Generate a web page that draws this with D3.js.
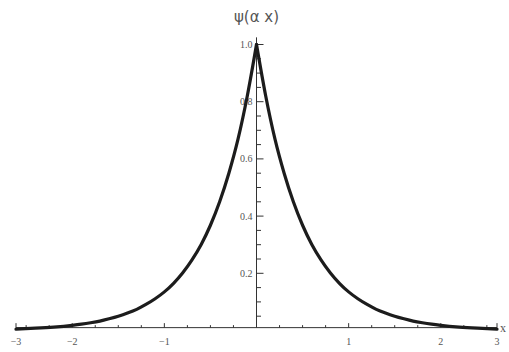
<!DOCTYPE html>
<html>
<head>
<meta charset="utf-8">
<script src="https://cdn.jsdelivr.net/npm/d3@7"></script>
<style>
  html, body { margin: 0; padding: 0; background: #fff; overflow: hidden; }
</style>
</head>
<body>
<div id="chart"></div>
<script>
// curve readings, right and left of the peak
const rightX = [0, 0.1, 0.2, 0.3, 0.4, 0.5, 0.6, 0.7, 0.8, 0.9, 1.0, 1.1, 1.2, 1.3, 1.4, 1.5, 1.6, 1.7, 1.8, 1.9, 2.0, 2.2, 2.4, 2.61];
const rightY = [1.0, 0.82, 0.67, 0.55, 0.45, 0.368, 0.301, 0.247, 0.202, 0.165, 0.135, 0.111, 0.091, 0.074, 0.061, 0.050, 0.041, 0.033, 0.027, 0.022, 0.018, 0.012, 0.008, 0.005];
const leftX = [-2.61, -2.4, -2.2, -2.0, -1.9, -1.8, -1.7, -1.6, -1.5, -1.4, -1.3, -1.2, -1.1, -1.0, -0.9, -0.8, -0.7, -0.6, -0.5, -0.4, -0.3, -0.2, -0.1, 0];
const leftY = [0.005, 0.008, 0.012, 0.018, 0.022, 0.027, 0.033, 0.041, 0.050, 0.061, 0.074, 0.091, 0.111, 0.135, 0.165, 0.202, 0.247, 0.301, 0.368, 0.45, 0.55, 0.67, 0.82, 1.0];

// ticks
const xTickValues = [-2.61, -2, -1, 1, 2, 2.61];
const xTickLabels = ["\u22123", "\u22122", "\u22121", "1", "2", "3"];
const xMinor = [-2.5, -2.25, -1.75, -1.5, -1.25, -0.75, -0.5, -0.25, 0.25, 0.5, 0.75, 1.25, 1.5, 1.75, 2.25, 2.5];
const yTickValues = [0.2, 0.4, 0.6, 0.8, 1.0];
const yTickLabels = ["0.2", "0.4", "0.6", "0.8", "1.0"];
const yMinor = [0.05, 0.1, 0.15, 0.25, 0.3, 0.35, 0.45, 0.5, 0.55, 0.65, 0.7, 0.75, 0.85, 0.9, 0.95];
const axisOriginY = 0.01;
const yTop = 1.025;

const width = 509, height = 352;

const svg = d3.select("#chart")
  .append("svg")
  .attr("width", width)
  .attr("height", height);

const xScale = d3.scaleLinear()
  .domain([-2.61, 2.61])
  .range([16, 497]);

const yScale = d3.scaleLinear()
  .domain([0, 1])
  .range([330.5, 44.5]);

const axisColor = "#333";
const labelColor = "#555";
const x0 = xScale(0);
const yAx = yScale(axisOriginY);

// x axis line
svg.append("line")
  .attr("x1", xScale(-2.61)).attr("x2", xScale(2.61))
  .attr("y1", yAx).attr("y2", yAx)
  .style("stroke", axisColor).style("stroke-width", 1);

// y axis line
svg.append("line")
  .attr("x1", x0).attr("x2", x0)
  .attr("y1", yAx).attr("y2", yScale(yTop))
  .style("stroke", axisColor).style("stroke-width", 1);

// x ticks (pointing up)
svg.selectAll("line.xmaj")
  .data(xTickValues)
  .join("line")
    .attr("class", "xmaj")
    .attr("x1", d => xScale(d)).attr("x2", d => xScale(d))
    .attr("y1", yAx).attr("y2", yAx - 4.5)
    .style("stroke", axisColor);

svg.selectAll("line.xmin")
  .data(xMinor)
  .join("line")
    .attr("class", "xmin")
    .attr("x1", d => xScale(d)).attr("x2", d => xScale(d))
    .attr("y1", yAx).attr("y2", yAx - 2.5)
    .style("stroke", axisColor);

svg.selectAll("text.xlab")
  .data(xTickValues)
  .join("text")
    .attr("class", "xlab")
    .attr("x", d => xScale(d))
    .attr("y", yAx + 17)
    .attr("text-anchor", "middle")
    .style("font-family", "'Liberation Serif', serif")
    .style("font-size", "10px")
    .style("fill", labelColor)
    .text((d, i) => xTickLabels[i]);

// y ticks (pointing right)
svg.selectAll("line.ymaj")
  .data(yTickValues)
  .join("line")
    .attr("class", "ymaj")
    .attr("x1", x0).attr("x2", x0 + 7)
    .attr("y1", d => yScale(d)).attr("y2", d => yScale(d))
    .style("stroke", axisColor);

svg.selectAll("line.ymin")
  .data(yMinor)
  .join("line")
    .attr("class", "ymin")
    .attr("x1", x0).attr("x2", x0 + 4.5)
    .attr("y1", d => yScale(d)).attr("y2", d => yScale(d))
    .style("stroke", axisColor);

svg.selectAll("text.ylab")
  .data(yTickValues)
  .join("text")
    .attr("class", "ylab")
    .attr("x", x0 - 4)
    .attr("y", d => yScale(d))
    .attr("dy", "0.35em")
    .attr("text-anchor", "end")
    .style("font-family", "'Liberation Serif', serif")
    .style("font-size", "10px")
    .style("fill", labelColor)
    .text((d, i) => yTickLabels[i]);

// the curve, drawn as two monotone halves so the peak stays sharp
const line = d3.line()
  .curve(d3.curveMonotoneX)
  .x(d => xScale(d[0]))
  .y(d => yScale(d[1]));

const halves = [
  leftX.map((x, i) => [x, leftY[i]]),
  rightX.map((x, i) => [x, rightY[i]])
];

svg.selectAll("path.curve")
  .data(halves)
  .join("path")
    .attr("class", "curve")
    .attr("d", d => line(d))
    .style("fill", "none")
    .style("stroke", "#1c1c1c")
    .style("stroke-width", 3.2)
    .style("stroke-linejoin", "round")
    .style("stroke-linecap", "round");

// axis labels
svg.append("text")
  .attr("x", x0)
  .attr("y", 22)
  .attr("text-anchor", "middle")
  .style("font-family", "'DejaVu Sans', sans-serif")
  .style("font-size", "15px")
  .style("fill", labelColor)
  .text("\u03c8(\u03b1 x)");

svg.append("text")
  .attr("x", xScale(2.61) + 3)
  .attr("y", yAx + 4)
  .style("font-family", "'Liberation Serif', serif")
  .style("font-size", "12px")
  .style("fill", labelColor)
  .text("x");
</script>
</body>
</html>
